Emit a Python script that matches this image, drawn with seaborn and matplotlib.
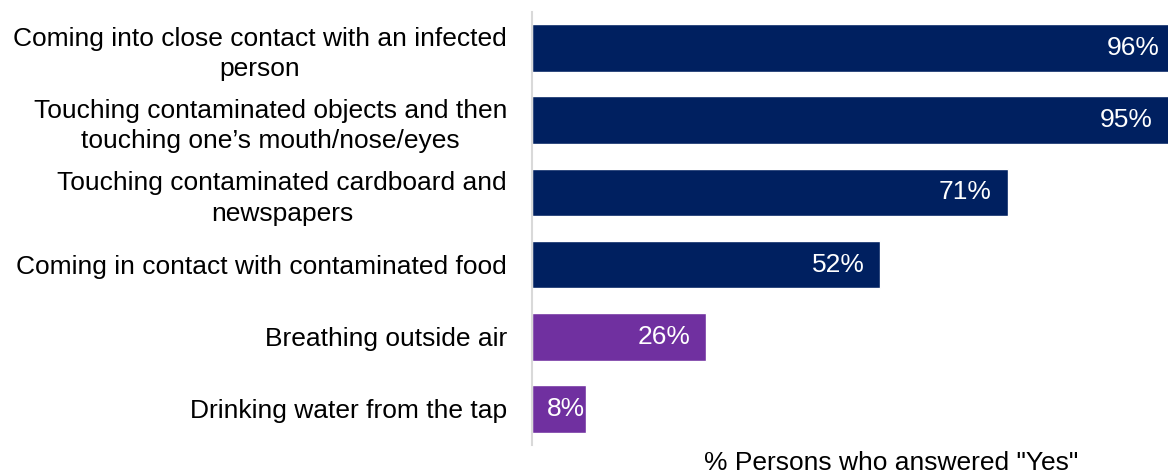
import matplotlib
matplotlib.use("Agg")
import matplotlib.pyplot as plt
import matplotlib.transforms as mtransforms
import seaborn as sns
import pandas as pd

# Survey answers: ways people believe the virus can spread
categories = [
    "Coming into close contact with an infected\nperson",
    "Touching contaminated objects and then\ntouching one\u2019s mouth/nose/eyes",
    "Touching contaminated cardboard and\nnewspapers",
    "Coming in contact with contaminated food",
    "Breathing outside air",
    "Drinking water from the tap",
]
values = [96, 95, 71, 52, 26, 8]
groups = ["true", "true", "true", "true", "myth", "myth"]
x_label = "% Persons who answered \"Yes\""

palette = {"true": "#002060", "myth": "#7030A0"}

df = pd.DataFrame({"category": categories, "value": values, "group": groups})

sns.set_theme(style="white")
plt.rcParams["font.family"] = ["Liberation Sans", "DejaVu Sans"]

fig = plt.figure(figsize=(11.68, 4.76), dpi=100)
ax = fig.add_axes([532 / 1168, 31 / 476, 718 / 1168, 433 / 476])

sns.barplot(
    data=df, y="category", x="value", hue="group", palette=palette,
    orient="h", width=0.66, dodge=False, legend=False, ax=ax, saturation=1,
    order=categories,
)

ax.set_xlim(0, 718 / 6.70)
ax.set_ylim(len(categories) - 0.5, -0.5)

for side in ["top", "right", "bottom"]:
    ax.spines[side].set_visible(False)
ax.spines["left"].set_color("#d9d9d9")
ax.spines["left"].set_linewidth(1.5)

ax.set_xticks([])
ax.set_ylabel("")
ax.tick_params(axis="y", length=0, pad=18, labelsize=19, labelcolor="#000000")
for lbl in ax.get_yticklabels():
    lbl.set_multialignment("center")
    lbl.set_linespacing(1.35)

ax.set_xlabel(x_label, fontsize=19, color="#000000", labelpad=4)

# value labels inside the bar ends
for i, v in enumerate(values):
    off = -1 if v < 12 else -16
    trans = ax.transData + mtransforms.ScaledTranslation(off / 100, 0, fig.dpi_scale_trans)
    ax.text(v, i, f"{v}%", ha="right", va="center", color="white",
            fontsize=19, transform=trans)

fig.savefig("out.png", dpi=100)
